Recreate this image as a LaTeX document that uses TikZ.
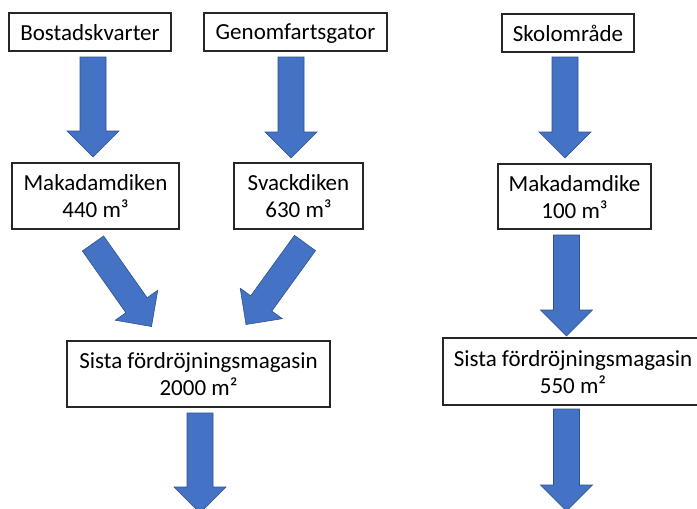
\documentclass[tikz,border=0pt]{standalone}
\usepackage{fontspec}
\setmainfont{Carlito}
\usetikzlibrary{calc}
\definecolor{arrowblue}{HTML}{4472C4}
\definecolor{arrowedge}{HTML}{2F528F}
\newcommand\topstrut{\rule{0pt}{19pt}}
\newcommand\botstrut{\rule[-3pt]{0pt}{3pt}}
\tikzset{
  box/.style={draw=black!85, line width=1.1pt, fill=white, inner sep=0pt, align=center,
    font=\fontsize{23}{27}\selectfont},
  blkarrow/.style={fill=arrowblue, draw=arrowedge, line width=0.6pt, line join=miter}
}
\newcommand\blkarrow[2]{%
  \coordinate (ba-s) at (#1);
  \coordinate (ba-t) at (#2);
  \coordinate (ba-h) at ($(ba-t)!26pt!(ba-s)$);
  \filldraw[blkarrow] ($(ba-s)!13pt!90:(ba-t)$) -- ($(ba-h)!13pt!90:(ba-t)$) --
    ($(ba-h)!26pt!90:(ba-t)$) -- (ba-t) -- ($(ba-h)!26pt!-90:(ba-t)$) --
    ($(ba-h)!13pt!-90:(ba-t)$) -- ($(ba-s)!13pt!-90:(ba-t)$) -- cycle;
}
\begin{document}
\begin{tikzpicture}[x=1pt,y=-1pt]
\clip (0,0) rectangle (697,509);
\fill[white] (0,0) rectangle (697,509);
% boxes
\node[box, minimum width=162pt, minimum height=38pt] (b1) at (90,32) {\topstrut Bostadskvarter\botstrut};
\node[box, minimum width=183pt, minimum height=38pt] (b2) at (295.5,32) {\topstrut Genomfartsgator\botstrut};
\node[box, minimum width=132pt, minimum height=38pt] (b3) at (568,33) {\topstrut Skolområde\botstrut};
\node[box, minimum width=167pt, minimum height=66pt] (m1) at (95.5,196) {\topstrut Makadamdiken\\440 m³\botstrut};
\node[box, minimum width=129pt, minimum height=66pt] (m2) at (298.5,196) {\topstrut Svackdiken\\630 m³\botstrut};
\node[box, minimum width=153pt, minimum height=65pt] (m3) at (574.5,196.5) {\topstrut Makadamdike\\100 m³\botstrut};
\node[box, minimum width=263pt, minimum height=66pt] (s1) at (198.5,374) {\topstrut Sista fördröjningsmagasin\\2000 m²\botstrut};
\node[box, minimum width=260pt, minimum height=67pt] (s2) at (573,371.5) {\topstrut Sista fördröjningsmagasin\\550 m²\botstrut};
% arrow end points
\coordinate (a1s) at (93,57);    \coordinate (a1t) at (93,157);
\coordinate (a2s) at (291,57);   \coordinate (a2t) at (291,158);
\coordinate (a3s) at (565,57);   \coordinate (a3t) at (565,158);
\coordinate (a4s) at (93,243.5); \coordinate (a4t) at (151.5,326.5);
\coordinate (a5s) at (305,243);  \coordinate (a5t) at (246,324.5);
\coordinate (a6s) at (566.5,235);\coordinate (a6t) at (566.5,336);
\coordinate (a7s) at (200,413);  \coordinate (a7t) at (200,513);
\coordinate (a8s) at (566.5,409);\coordinate (a8t) at (566.5,511);
\blkarrow{a1s}{a1t}
\blkarrow{a2s}{a2t}
\blkarrow{a3s}{a3t}
\blkarrow{a4s}{a4t}
\blkarrow{a5s}{a5t}
\blkarrow{a6s}{a6t}
\blkarrow{a7s}{a7t}
\blkarrow{a8s}{a8t}
\end{tikzpicture}
\end{document}
